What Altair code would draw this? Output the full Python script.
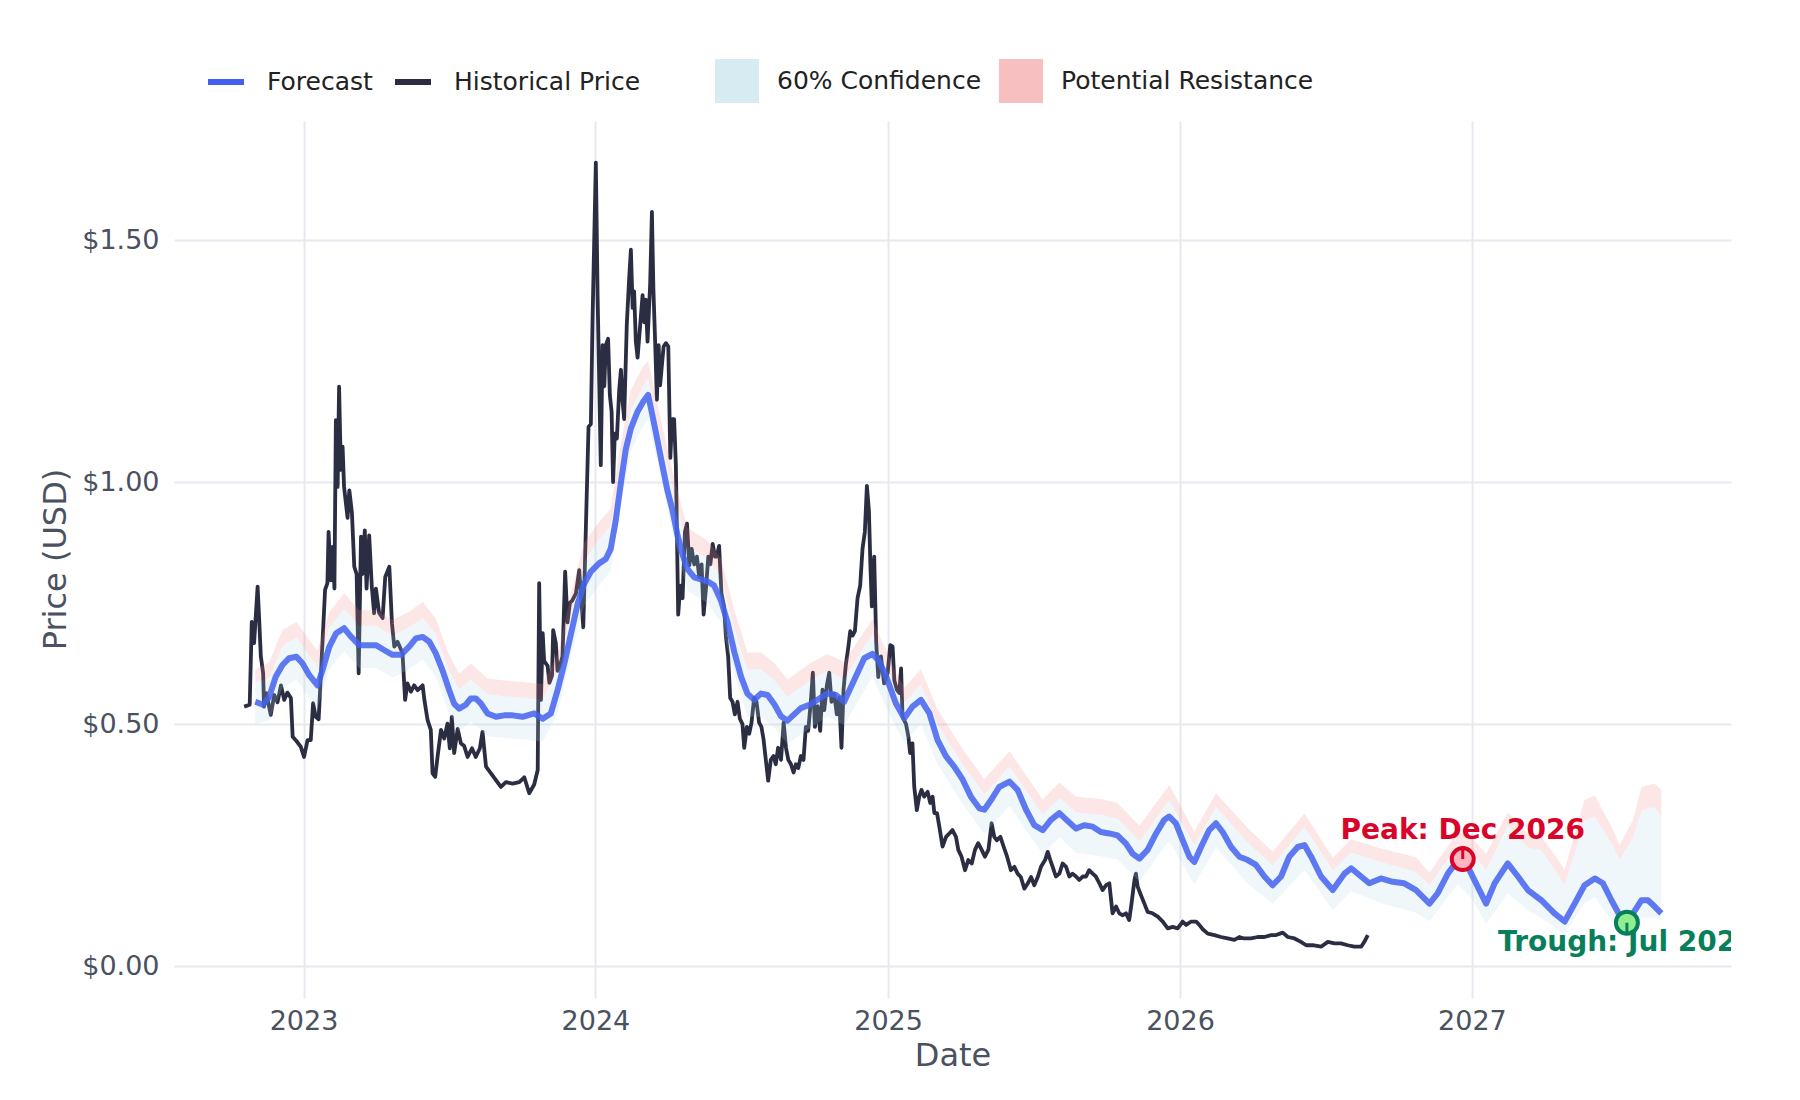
import altair as alt
import pandas as pd


# historical daily close (decimal year, USD)
hist_year = [
    2022.796, 2022.815, 2022.822, 2022.830, 2022.842, 2022.847, 2022.853, 2022.861, 2022.864, 2022.872,
    2022.887, 2022.899, 2022.910, 2022.922, 2022.933, 2022.944, 2022.956, 2022.962, 2022.975, 2022.990,
    2023.001, 2023.013, 2023.024, 2023.032, 2023.041, 2023.051, 2023.064, 2023.073, 2023.081, 2023.085,
    2023.093, 2023.099, 2023.105, 2023.110, 2023.116, 2023.121, 2023.127, 2023.133, 2023.138, 2023.150,
    2023.156, 2023.165, 2023.173, 2023.181, 2023.188, 2023.196, 2023.201, 2023.209, 2023.215, 2023.224,
    2023.233, 2023.241, 2023.247, 2023.258, 2023.270, 2023.279, 2023.293, 2023.302, 2023.310, 2023.321,
    2023.338, 2023.347, 2023.355, 2023.367, 2023.378, 2023.390, 2023.407, 2023.413, 2023.424, 2023.435,
    2023.441, 2023.450, 2023.458, 2023.470, 2023.481, 2023.492, 2023.500, 2023.507, 2023.515, 2023.527,
    2023.538, 2023.549, 2023.561, 2023.576, 2023.589, 2023.603, 2023.612, 2023.624, 2023.641, 2023.658,
    2023.675, 2023.692, 2023.715, 2023.738, 2023.755, 2023.772, 2023.789, 2023.801, 2023.806, 2023.812,
    2023.818, 2023.823, 2023.835, 2023.841, 2023.850, 2023.854, 2023.863, 2023.869, 2023.877, 2023.886,
    2023.895, 2023.903, 2023.911, 2023.920, 2023.932, 2023.943, 2023.957, 2023.966, 2023.975, 2023.983,
    2023.989, 2024.000, 2024.006, 2024.017, 2024.023, 2024.029, 2024.034, 2024.042, 2024.048, 2024.054,
    2024.059, 2024.065, 2024.072, 2024.080, 2024.086, 2024.091, 2024.097, 2024.106, 2024.114, 2024.120,
    2024.126, 2024.131, 2024.137, 2024.143, 2024.152, 2024.160, 2024.166, 2024.171, 2024.177, 2024.186,
    2024.192, 2024.197, 2024.203, 2024.209, 2024.215, 2024.220, 2024.226, 2024.232, 2024.240, 2024.248,
    2024.255, 2024.261, 2024.268, 2024.274, 2024.282, 2024.289, 2024.297, 2024.305, 2024.312, 2024.320,
    2024.328, 2024.337, 2024.346, 2024.354, 2024.362, 2024.369, 2024.377, 2024.385, 2024.392, 2024.400,
    2024.408, 2024.414, 2024.422, 2024.430, 2024.439, 2024.445, 2024.453, 2024.460, 2024.468, 2024.476,
    2024.485, 2024.493, 2024.502, 2024.508, 2024.517, 2024.525, 2024.533, 2024.542, 2024.550, 2024.559,
    2024.567, 2024.574, 2024.582, 2024.590, 2024.599, 2024.608, 2024.616, 2024.624, 2024.634, 2024.643,
    2024.651, 2024.659, 2024.668, 2024.677, 2024.685, 2024.693, 2024.702, 2024.711, 2024.719, 2024.727,
    2024.736, 2024.743, 2024.750, 2024.759, 2024.768, 2024.776, 2024.782, 2024.791, 2024.799, 2024.807,
    2024.816, 2024.825, 2024.833, 2024.841, 2024.848, 2024.856, 2024.864, 2024.871, 2024.879, 2024.887,
    2024.896, 2024.905, 2024.913, 2024.921, 2024.928, 2024.935, 2024.940, 2024.945, 2024.953, 2024.960,
    2024.967, 2024.976, 2024.987, 2024.999, 2025.008, 2025.016, 2025.022, 2025.031, 2025.039, 2025.045,
    2025.050, 2025.062, 2025.070, 2025.076, 2025.084, 2025.090, 2025.099, 2025.107, 2025.115, 2025.124,
    2025.136, 2025.145, 2025.153, 2025.159, 2025.168, 2025.176, 2025.187, 2025.199, 2025.210, 2025.221,
    2025.233, 2025.241, 2025.252, 2025.264, 2025.275, 2025.287, 2025.298, 2025.309, 2025.321, 2025.332,
    2025.344, 2025.355, 2025.364, 2025.373, 2025.385, 2025.396, 2025.408, 2025.421, 2025.433, 2025.444,
    2025.455, 2025.467, 2025.478, 2025.490, 2025.501, 2025.513, 2025.524, 2025.538, 2025.547, 2025.556,
    2025.564, 2025.575, 2025.587, 2025.598, 2025.610, 2025.621, 2025.632, 2025.644, 2025.655, 2025.667,
    2025.678, 2025.689, 2025.701, 2025.712, 2025.724, 2025.735, 2025.747, 2025.758, 2025.769, 2025.781,
    2025.792, 2025.804, 2025.815, 2025.826, 2025.834, 2025.844, 2025.849, 2025.855, 2025.864, 2025.878,
    2025.889, 2025.906, 2025.924, 2025.941, 2025.958, 2025.975, 2025.992, 2026.009, 2026.021, 2026.038,
    2026.055, 2026.066, 2026.078, 2026.095, 2026.118, 2026.140, 2026.163, 2026.186, 2026.203, 2026.220,
    2026.243, 2026.266, 2026.289, 2026.312, 2026.329, 2026.352, 2026.369, 2026.392, 2026.414, 2026.432,
    2026.454, 2026.483, 2026.506, 2026.529, 2026.551, 2026.574, 2026.597, 2026.620, 2026.631, 2026.643,
]
hist_price = [
    0.536, 0.540, 0.711, 0.667, 0.784, 0.722, 0.640, 0.605, 0.536, 0.564,
    0.519, 0.560, 0.545, 0.580, 0.550, 0.565, 0.554, 0.474, 0.465, 0.453,
    0.432, 0.467, 0.467, 0.543, 0.515, 0.510, 0.667, 0.777, 0.791, 0.897,
    0.797, 0.866, 0.780, 1.128, 0.990, 1.197, 1.025, 1.073, 0.990, 0.926,
    0.983, 0.936, 0.825, 0.810, 0.605, 0.887, 0.810, 0.900, 0.780, 0.890,
    0.784, 0.729, 0.780, 0.730, 0.719, 0.804, 0.825, 0.708, 0.660, 0.670,
    0.647, 0.550, 0.584, 0.567, 0.580, 0.570, 0.580, 0.550, 0.508, 0.488,
    0.398, 0.391, 0.432, 0.488, 0.470, 0.501, 0.450, 0.515, 0.440, 0.490,
    0.460, 0.455, 0.432, 0.450, 0.432, 0.450, 0.484, 0.412, 0.398, 0.384,
    0.370, 0.380, 0.377, 0.380, 0.390, 0.357, 0.375, 0.405, 0.791, 0.550,
    0.688, 0.630, 0.620, 0.585, 0.600, 0.694, 0.667, 0.610, 0.620, 0.640,
    0.815, 0.710, 0.750, 0.756, 0.770, 0.818, 0.700, 0.908, 1.114, 1.120,
    1.343, 1.660, 1.386, 1.035, 1.283, 1.198, 1.283, 1.296, 1.180, 1.145,
    1.000, 1.100, 1.090, 1.190, 1.232, 1.170, 1.130, 1.326, 1.420, 1.480,
    1.360, 1.394, 1.290, 1.257, 1.326, 1.386, 1.330, 1.377, 1.290, 1.410,
    1.558, 1.400, 1.290, 1.170, 1.283, 1.200, 1.240, 1.280, 1.287, 1.280,
    1.050, 1.130, 1.130, 1.035, 0.726, 0.786, 0.760, 0.897, 0.914, 0.828,
    0.862, 0.830, 0.846, 0.803, 0.830, 0.726, 0.780, 0.846, 0.830, 0.872,
    0.846, 0.846, 0.868, 0.770, 0.743, 0.683, 0.640, 0.554, 0.546, 0.520,
    0.546, 0.511, 0.500, 0.451, 0.494, 0.480, 0.503, 0.554, 0.546, 0.503,
    0.494, 0.469, 0.426, 0.383, 0.426, 0.434, 0.417, 0.451, 0.426, 0.503,
    0.451, 0.426, 0.417, 0.400, 0.417, 0.409, 0.434, 0.426, 0.494, 0.486,
    0.546, 0.606, 0.494, 0.537, 0.486, 0.571, 0.529, 0.580, 0.606, 0.546,
    0.563, 0.520, 0.554, 0.451, 0.571, 0.623, 0.657, 0.692, 0.683, 0.692,
    0.760, 0.786, 0.862, 0.897, 0.992, 0.940, 0.828, 0.743, 0.846, 0.666,
    0.597, 0.640, 0.584, 0.605, 0.663, 0.660, 0.590, 0.570, 0.564, 0.615,
    0.515, 0.500, 0.474, 0.440, 0.460, 0.371, 0.322, 0.350, 0.364, 0.350,
    0.360, 0.337, 0.350, 0.316, 0.316, 0.288, 0.247, 0.267, 0.274, 0.281,
    0.267, 0.240, 0.226, 0.198, 0.219, 0.212, 0.240, 0.254, 0.240, 0.226,
    0.240, 0.295, 0.267, 0.260, 0.267, 0.247, 0.226, 0.198, 0.205, 0.191,
    0.184, 0.160, 0.170, 0.184, 0.167, 0.184, 0.205, 0.219, 0.236, 0.219,
    0.205, 0.185, 0.191, 0.212, 0.205, 0.185, 0.191, 0.185, 0.178, 0.185,
    0.185, 0.198, 0.191, 0.185, 0.171, 0.157, 0.167, 0.171, 0.109, 0.123,
    0.109, 0.105, 0.109, 0.095, 0.129, 0.178, 0.191, 0.164, 0.150, 0.129,
    0.112, 0.109, 0.102, 0.092, 0.078, 0.081, 0.078, 0.092, 0.085, 0.092,
    0.092, 0.085, 0.076, 0.067, 0.064, 0.060, 0.057, 0.054, 0.060, 0.057,
    0.057, 0.060, 0.060, 0.064, 0.064, 0.069, 0.060, 0.057, 0.050, 0.043,
    0.043, 0.040, 0.050, 0.047, 0.047, 0.043, 0.040, 0.040, 0.050, 0.064,
]

# model forecast line
fc_year = [
    2022.834, 2022.861, 2022.882, 2022.904, 2022.927, 2022.950, 2022.975, 2022.996, 2023.019, 2023.047,
    2023.064, 2023.087, 2023.110, 2023.138, 2023.161, 2023.190, 2023.218, 2023.247, 2023.275, 2023.304,
    2023.333, 2023.361, 2023.384, 2023.407, 2023.430, 2023.452, 2023.475, 2023.498, 2023.515, 2023.532,
    2023.555, 2023.572, 2023.589, 2023.607, 2023.629, 2023.658, 2023.686, 2023.715, 2023.749, 2023.789,
    2023.818, 2023.846, 2023.869, 2023.892, 2023.915, 2023.938, 2023.960, 2023.983, 2024.011, 2024.034,
    2024.051, 2024.068, 2024.086, 2024.103, 2024.120, 2024.143, 2024.163, 2024.179, 2024.194, 2024.211,
    2024.228, 2024.245, 2024.263, 2024.280, 2024.297, 2024.314, 2024.337, 2024.360, 2024.382, 2024.405,
    2024.428, 2024.451, 2024.474, 2024.497, 2024.519, 2024.542, 2024.565, 2024.588, 2024.611, 2024.634,
    2024.656, 2024.679, 2024.702, 2024.736, 2024.771, 2024.793, 2024.822, 2024.850, 2024.873, 2024.896,
    2024.919, 2024.947, 2024.970, 2024.993, 2025.027, 2025.056, 2025.084, 2025.113, 2025.142, 2025.170,
    2025.199, 2025.227, 2025.256, 2025.284, 2025.313, 2025.330, 2025.353, 2025.381, 2025.416, 2025.444,
    2025.473, 2025.501, 2025.530, 2025.558, 2025.587, 2025.615, 2025.644, 2025.672, 2025.701, 2025.729,
    2025.758, 2025.786, 2025.815, 2025.838, 2025.861, 2025.889, 2025.918, 2025.946, 2025.963, 2025.986,
    2026.009, 2026.032, 2026.049, 2026.072, 2026.100, 2026.123, 2026.146, 2026.175, 2026.203, 2026.232,
    2026.260, 2026.289, 2026.317, 2026.346, 2026.374, 2026.403, 2026.426, 2026.449, 2026.483, 2026.523,
    2026.563, 2026.586, 2026.620, 2026.648, 2026.688, 2026.728, 2026.768, 2026.808, 2026.854, 2026.882,
    2026.917, 2026.951, 2026.968, 2026.997, 2027.025, 2027.048, 2027.077, 2027.122, 2027.157, 2027.191,
    2027.237, 2027.282, 2027.317, 2027.351, 2027.385, 2027.420, 2027.448, 2027.477, 2027.505, 2027.528,
    2027.551, 2027.580, 2027.602, 2027.625, 2027.648,
]
fc_price = [
    0.546, 0.540, 0.556, 0.598, 0.622, 0.636, 0.639, 0.625, 0.601, 0.580,
    0.611, 0.659, 0.687, 0.698, 0.681, 0.663, 0.663, 0.663, 0.653, 0.643,
    0.643, 0.660, 0.677, 0.680, 0.670, 0.646, 0.611, 0.570, 0.542, 0.532,
    0.540, 0.553, 0.553, 0.542, 0.522, 0.515, 0.518, 0.518, 0.515, 0.522,
    0.511, 0.522, 0.570, 0.625, 0.687, 0.749, 0.790, 0.815, 0.832, 0.841,
    0.862, 0.920, 1.000, 1.069, 1.111, 1.146, 1.167, 1.180, 1.137, 1.086,
    1.034, 0.983, 0.940, 0.889, 0.850, 0.820, 0.803, 0.799, 0.795, 0.786,
    0.756, 0.710, 0.649, 0.598, 0.563, 0.550, 0.563, 0.560, 0.541, 0.516,
    0.507, 0.520, 0.533, 0.541, 0.555, 0.563, 0.560, 0.546, 0.576, 0.606,
    0.636, 0.645, 0.630, 0.600, 0.543, 0.512, 0.536, 0.550, 0.522, 0.467,
    0.433, 0.412, 0.385, 0.350, 0.326, 0.323, 0.343, 0.370, 0.381, 0.364,
    0.323, 0.291, 0.281, 0.302, 0.316, 0.300, 0.284, 0.291, 0.288, 0.277,
    0.274, 0.270, 0.253, 0.232, 0.222, 0.240, 0.274, 0.302, 0.309, 0.295,
    0.260, 0.226, 0.215, 0.246, 0.281, 0.295, 0.277, 0.246, 0.226, 0.219,
    0.209, 0.185, 0.167, 0.185, 0.226, 0.246, 0.250, 0.226, 0.185, 0.157,
    0.191, 0.202, 0.185, 0.171, 0.181, 0.174, 0.171, 0.157, 0.129, 0.150,
    0.191, 0.219, 0.226, 0.191, 0.157, 0.129, 0.171, 0.212, 0.185, 0.157,
    0.136, 0.109, 0.092, 0.129, 0.167, 0.181, 0.171, 0.136, 0.105, 0.088,
    0.109, 0.136, 0.136, 0.123, 0.109,
]

# 60% confidence band and resistance band edges
band_year = [
    2022.834, 2022.882, 2022.927, 2022.975, 2023.019, 2023.047, 2023.087, 2023.138, 2023.190, 2023.247,
    2023.304, 2023.361, 2023.407, 2023.452, 2023.498, 2023.532, 2023.572, 2023.629, 2023.686, 2023.749,
    2023.818, 2023.869, 2023.915, 2023.960, 2024.011, 2024.051, 2024.086, 2024.120, 2024.163, 2024.179,
    2024.211, 2024.263, 2024.314, 2024.382, 2024.428, 2024.474, 2024.519, 2024.565, 2024.611, 2024.656,
    2024.736, 2024.793, 2024.850, 2024.947, 2025.027, 2025.056, 2025.113, 2025.170, 2025.256, 2025.330,
    2025.416, 2025.530, 2025.587, 2025.644, 2025.729, 2025.786, 2025.861, 2025.963, 2026.049, 2026.123,
    2026.232, 2026.317, 2026.426, 2026.523, 2026.586, 2026.688, 2026.808, 2026.854, 2026.951, 2026.997,
    2027.048, 2027.122, 2027.191, 2027.237, 2027.317, 2027.385, 2027.420, 2027.477, 2027.505, 2027.551,
    2027.580, 2027.625, 2027.648,
]
conf_low = [
    0.499, 0.509, 0.575, 0.592, 0.554, 0.533, 0.612, 0.651, 0.616, 0.616,
    0.596, 0.613, 0.633, 0.599, 0.523, 0.485, 0.506, 0.475, 0.471, 0.468,
    0.464, 0.523, 0.640, 0.745, 0.787, 0.817, 0.955, 1.065, 1.118, 1.130,
    1.040, 0.895, 0.775, 0.750, 0.711, 0.604, 0.515, 0.515, 0.493, 0.459,
    0.493, 0.515, 0.498, 0.597, 0.493, 0.462, 0.500, 0.417, 0.335, 0.273,
    0.331, 0.231, 0.266, 0.234, 0.227, 0.220, 0.175, 0.259, 0.168, 0.246,
    0.170, 0.128, 0.199, 0.116, 0.155, 0.130, 0.110, 0.092, 0.170, 0.140,
    0.088, 0.150, 0.115, 0.100, 0.066, 0.130, 0.143, 0.095, 0.062, 0.081,
    0.100, 0.100, 0.095,
]
conf_high = [
    0.587, 0.596, 0.662, 0.679, 0.641, 0.620, 0.699, 0.738, 0.703, 0.703,
    0.683, 0.700, 0.720, 0.686, 0.610, 0.572, 0.593, 0.562, 0.558, 0.555,
    0.551, 0.612, 0.732, 0.838, 0.882, 0.910, 1.045, 1.150, 1.200, 1.215,
    1.126, 0.985, 0.868, 0.843, 0.806, 0.699, 0.613, 0.613, 0.591, 0.557,
    0.591, 0.610, 0.593, 0.687, 0.575, 0.544, 0.582, 0.499, 0.417, 0.355,
    0.413, 0.313, 0.348, 0.318, 0.312, 0.305, 0.258, 0.343, 0.250, 0.329,
    0.255, 0.209, 0.288, 0.198, 0.235, 0.215, 0.195, 0.167, 0.252, 0.237,
    0.199, 0.290, 0.245, 0.240, 0.168, 0.302, 0.309, 0.253, 0.220, 0.267,
    0.322, 0.329, 0.309,
]
resist_high = [
    0.612, 0.628, 0.694, 0.711, 0.673, 0.652, 0.731, 0.770, 0.735, 0.735,
    0.715, 0.732, 0.752, 0.718, 0.642, 0.604, 0.625, 0.594, 0.590, 0.587,
    0.583, 0.645, 0.768, 0.875, 0.917, 0.945, 1.080, 1.190, 1.240, 1.250,
    1.160, 1.020, 0.905, 0.880, 0.843, 0.735, 0.648, 0.648, 0.626, 0.592,
    0.626, 0.645, 0.628, 0.717, 0.606, 0.575, 0.613, 0.530, 0.448, 0.386,
    0.444, 0.344, 0.379, 0.350, 0.345, 0.337, 0.290, 0.374, 0.278, 0.357,
    0.285, 0.236, 0.315, 0.224, 0.262, 0.243, 0.225, 0.193, 0.277, 0.266,
    0.232, 0.318, 0.272, 0.268, 0.200, 0.343, 0.352, 0.288, 0.250, 0.302,
    0.370, 0.377, 0.364,
]

peak = {"year": 2026.968, "price": 0.221, "label": "Peak: Dec 2026"}
trough = {"year": 2027.530, "price": 0.0895, "label": "Trough: Jul 2027"}

tick_years = [2023, 2024, 2025, 2026, 2027]
price_ticks = [0.0, 0.5, 1.0, 1.5]

LINE_NAMES = ["Forecast", "Historical Price"]
LINE_COLORS = ["#4361ee", "#2b2d42"]
BAND_NAMES = ["60% Confidence", "Potential Resistance"]
BAND_COLORS = ["lightblue", "lightcoral"]
FONT = "DejaVu Sans"
TEXT_GREY = "#4a5160"
GRID = "#e6e9ef"


def to_date(years):
    base = pd.Timestamp("2022-01-01")
    return [base + pd.Timedelta(days=(y - 2022) * 365.25) for y in years]


hist = pd.DataFrame({"date": to_date(hist_year), "price": hist_price, "series": "Historical Price"})
fc = pd.DataFrame({"date": to_date(fc_year), "price": fc_price, "series": "Forecast"})
band = pd.DataFrame({
    "date": to_date(band_year), "low": conf_low, "high": conf_high, "resist": resist_high,
})
conf = band.assign(kind="60% Confidence")
resist = band.assign(kind="Potential Resistance")
peak_df = pd.DataFrame({"date": to_date([peak["year"]]), "price": [peak["price"]], "label": [peak["label"]]})
trough_df = pd.DataFrame({"date": to_date([trough["year"]]), "price": [trough["price"]], "label": [trough["label"]]})

x_axis = alt.Axis(
    values=[alt.DateTime(year=y, month=1, date=1) for y in tick_years], format="%Y",
    labelFontSize=27, labelColor=TEXT_GREY, labelPadding=10, labelFlush=False, labelAngle=0,
    titleFontSize=32, titleColor=TEXT_GREY, titleFontWeight="normal", titleY=57, titleBaseline="middle",
    grid=True, gridColor=GRID, gridWidth=2, domain=False, ticks=False,
)
y_axis = alt.Axis(
    values=price_ticks, format="$.2f",
    labelFontSize=27, labelColor=TEXT_GREY, labelPadding=15,
    titleFontSize=32, titleColor=TEXT_GREY, titleFontWeight="normal",
    titleX=-119, titleY=438, titleBaseline="middle",
    grid=True, gridColor=GRID, gridWidth=2, domain=False, ticks=False,
)
x_scale = alt.Scale(domain=[alt.DateTime(year=2022, month=7, date=23),
                            alt.DateTime(year=2027, month=11, date=21)])
y_scale = alt.Scale(domain=[-0.066, 1.746], nice=False, zero=False)


def x_enc():
    return alt.X("date:T", scale=x_scale, axis=x_axis, title="Date")


def y_enc(field):
    return alt.Y(f"{field}:Q", scale=y_scale, axis=y_axis, title="Price (USD)")


stroke_legend = alt.Legend(
    title=None, orient="none", legendX=31, legendY=-60, direction="horizontal", columns=2,
    symbolType="stroke", symbolSize=1296, symbolStrokeWidth=6, symbolOpacity=1,
    labelFontSize=25, labelFont=FONT, labelColor="#222222", labelOffset=20, labelLimit=500,
    columnPadding=10, padding=0,
)
fill_legend = alt.Legend(
    title=None, orient="none", legendX=541, legendY=-62, direction="horizontal", columns=2,
    symbolType="square", symbolSize=1936, symbolOpacity=0.5, symbolStrokeWidth=0,
    labelFontSize=25, labelFont=FONT, labelColor="#222222", labelOffset=18, labelLimit=500,
    columnPadding=17, padding=0,
)
stroke_enc = alt.Stroke("series:N", scale=alt.Scale(domain=LINE_NAMES, range=LINE_COLORS), legend=stroke_legend)
fill_enc = alt.Fill("kind:N", scale=alt.Scale(domain=BAND_NAMES, range=BAND_COLORS), legend=fill_legend)

hist_line = alt.Chart(hist).mark_line(strokeWidth=3.8, strokeJoin="round").encode(
    x=x_enc(), y=y_enc("price"), stroke=stroke_enc,
)
conf_area = alt.Chart(conf).mark_area(opacity=0.2).encode(
    x=x_enc(), y=y_enc("low"), y2="high:Q", fill=fill_enc,
)
resist_area = alt.Chart(resist).mark_area(opacity=0.2).encode(
    x=x_enc(), y=y_enc("high"), y2="resist:Q", fill=fill_enc,
)
fc_line = alt.Chart(fc).mark_line(strokeWidth=6, opacity=0.85, strokeJoin="round").encode(
    x=x_enc(), y=y_enc("price"), stroke=stroke_enc,
)


def marker(df, fill, edge):
    return alt.Chart(df).mark_point(
        shape="circle", filled=True, size=484, fill=fill, stroke=edge, strokeWidth=4, opacity=1,
    ).encode(x=x_enc(), y=y_enc("price"))


def arrow_tick(df, edge, offset):
    return alt.Chart(df).mark_tick(
        orient="vertical", size=12, thickness=3, color=edge, opacity=1, yOffset=offset,
    ).encode(x=x_enc(), y=y_enc("price"))


def label(df, color, dy):
    return alt.Chart(df).mark_text(
        font=FONT, fontWeight="bold", fontSize=28, color=color, dy=dy,
        align="center", baseline="alphabetic", clip=True,
    ).encode(x=x_enc(), y=y_enc("price"), text="label:N")


chart = alt.layer(
    hist_line, conf_area, resist_area, fc_line,
    marker(peak_df, "#ffb6c1", "#d90429"), arrow_tick(peak_df, "#d90429", -6),
    marker(trough_df, "#90ee90", "#087f5b"), arrow_tick(trough_df, "#087f5b", 6),
    label(peak_df, "#d90429", -20), label(trough_df, "#087f5b", 28),
).properties(
    width=1557, height=877,
    padding={"left": 166, "top": 113, "right": 61, "bottom": 94},
    autosize=alt.AutoSizeParams(type="none"),
    background="white",
).configure(font=FONT).configure_view(strokeWidth=0)

chart.save("out.html", embed_options={"renderer": "svg", "actions": False})
